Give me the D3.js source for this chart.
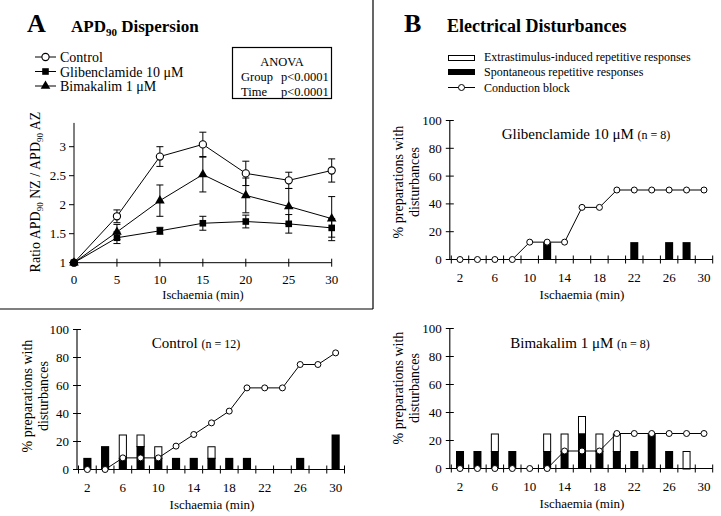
<!DOCTYPE html>
<html><head><meta charset="utf-8">
<script src="https://cdn.jsdelivr.net/npm/d3@7"></script>
<style>
body{margin:0;background:#fff;}
svg{display:block;}
</style></head>
<body>
<svg id="chart" width="721" height="516" font-family="'Liberation Serif', 'Times New Roman', 'DejaVu Serif', serif"></svg>
<script>
// ---------- Panel A data ----------
const timeA = [0, 5, 10, 15, 20, 25, 30];
const controlMean = [1.0, 1.80, 2.83, 3.04, 2.54, 2.42, 2.59];
const controlErr  = [0, 0.11, 0.17, 0.21, 0.21, 0.14, 0.20];
const glibMean    = [1.0, 1.43, 1.55, 1.68, 1.71, 1.67, 1.60];
const glibErr     = [0, 0.10, 0.06, 0.12, 0.11, 0.16, 0.16];
const bimaMean    = [1.0, 1.53, 2.07, 2.52, 2.16, 1.97, 1.76];
const bimaErr     = [0, 0.13, 0.27, 0.30, 0.30, 0.31, 0.38];
const yTicksA = [1, 1.5, 2, 2.5, 3];
const xTicksA = [0, 5, 10, 15, 20, 25, 30];

// ---------- Panel B data ----------
const minutes = [2, 4, 6, 8, 10, 12, 14, 16, 18, 20, 22, 24, 26, 28, 30];
const minuteLabels = ["2", "6", "10", "14", "18", "22", "26", "30"];
const pctTicks = [0, 20, 40, 60, 80, 100];

const ctrlSpont = [8.3, 16.7, 8.3, 16.7, 8.3, 8.3, 8.3, 8.3, 8.3, 8.3, 0, 0, 8.3, 0, 25];
const ctrlExtra = [0, 0, 16.7, 8.3, 8.3, 0, 0, 8.3, 0, 0, 0, 0, 0, 0, 0];
const ctrlBlock = [0, 0, 8.3, 8.3, 8.3, 16.7, 25, 33.3, 41.7, 58.3, 58.3, 58.3, 75, 75, 83.3];

const glibSpont = [0, 0, 0, 0, 0, 12.5, 0, 0, 0, 0, 12.5, 0, 12.5, 12.5, 0];
const glibExtra = [0, 0, 0, 0, 0, 0, 0, 0, 0, 0, 0, 0, 0, 0, 0];
const glibBlock = [0, 0, 0, 0, 12.5, 12.5, 12.5, 37.5, 37.5, 50, 50, 50, 50, 50, 50];

const bimaSpont = [12.5, 12.5, 12.5, 12.5, 0, 12.5, 12.5, 25, 12.5, 12.5, 12.5, 25, 12.5, 0, 0];
const bimaExtra = [0, 0, 12.5, 0, 0, 12.5, 12.5, 12.5, 12.5, 12.5, 0, 0, 0, 12.5, 0];
const bimaBlock = [0, 0, 0, 0, 0, 0, 12.5, 12.5, 12.5, 25, 25, 25, 25, 25, 25];

const svg = d3.select("#chart");

// ---------- frame lines ----------
svg.append("line").attr("x1", 373).attr("y1", 0).attr("x2", 373).attr("y2", 309).attr("stroke", "#000").attr("stroke-width", 1.2);
svg.append("line").attr("x1", 0).attr("y1", 309).attr("x2", 373).attr("y2", 309).attr("stroke", "#000").attr("stroke-width", 1.2);

// ---------- headers ----------
svg.append("text").attr("x", 27).attr("y", 32).attr("font-size", 26).attr("font-weight", "bold").text("A");
const hA = svg.append("text").attr("x", 71).attr("y", 32).attr("font-size", 17).attr("font-weight", "bold");
hA.append("tspan").text("APD");
hA.append("tspan").attr("font-size", 11).attr("dy", 4).text("90");
hA.append("tspan").attr("dy", -4).text(" Dispersion");

svg.append("text").attr("x", 404).attr("y", 32).attr("font-size", 26).attr("font-weight", "bold").text("B");
svg.append("text").attr("x", 447).attr("y", 32).attr("font-size", 18).attr("font-weight", "bold").text("Electrical Disturbances");

// ---------- Panel A ----------
const xA = d3.scaleLinear().domain([0, 30]).range([74, 331.7]);
const yA = d3.scaleLinear().domain([1, 3]).range([262.7, 146.7]);

const gA = svg.append("g");
gA.append("line").attr("x1", xA(0)).attr("x2", xA(0)).attr("y1", yA(1)).attr("y2", yA(3.41)).attr("stroke", "#000");
yTicksA.forEach(t => {
  gA.append("line").attr("x1", xA(0) - 5).attr("x2", xA(0)).attr("y1", yA(t)).attr("y2", yA(t)).attr("stroke", "#000");
  gA.append("text").attr("x", xA(0) - 8).attr("y", yA(t) + 4.5).attr("text-anchor", "end").attr("font-size", 13).text(t);
});
gA.append("line").attr("x1", xA(0)).attr("x2", xA(30)).attr("y1", yA(1)).attr("y2", yA(1)).attr("stroke", "#000");
xTicksA.forEach(t => {
  gA.append("line").attr("x1", xA(t)).attr("x2", xA(t)).attr("y1", yA(1) - 4).attr("y2", yA(1) + 4).attr("stroke", "#000");
  gA.append("text").attr("x", xA(t)).attr("y", 284).attr("text-anchor", "middle").attr("font-size", 13).text(t);
});
gA.append("text").attr("x", 203).attr("y", 299).attr("text-anchor", "middle").attr("font-size", 12.5).text("Ischaemia (min)");
const ylA = gA.append("text").attr("transform", "translate(40,192) rotate(-90)").attr("text-anchor", "middle").attr("font-size", 14);
ylA.append("tspan").text("Ratio APD");
ylA.append("tspan").attr("font-size", 9).attr("dy", 3).text("90");
ylA.append("tspan").attr("dy", -3).text(" NZ / APD");
ylA.append("tspan").attr("font-size", 9).attr("dy", 3).text("90");
ylA.append("tspan").attr("dy", -3).text(" AZ");

const seriesA = [
  {name: "Control", mean: controlMean, err: controlErr, sym: "circle"},
  {name: "Glibenclamide 10 μM", mean: glibMean, err: glibErr, sym: "square"},
  {name: "Bimakalim 1 μM", mean: bimaMean, err: bimaErr, sym: "triangle"}
];
const lineA = d3.line().x((d, i) => xA(timeA[i])).y(d => yA(d));

function drawSym(g, sym, x, y) {
  if (sym === "circle") {
    g.append("circle").attr("cx", x).attr("cy", y).attr("r", 3.6).attr("fill", "#fff").attr("stroke", "#000").attr("stroke-width", 1.1);
  } else if (sym === "square") {
    g.append("rect").attr("x", x - 3.3).attr("y", y - 3.3).attr("width", 6.6).attr("height", 6.6).attr("fill", "#000");
  } else {
    g.append("path").attr("d", d3.symbol(d3.symbolTriangle, 40)()).attr("transform", `translate(${x},${y})`).attr("fill", "#000");
  }
}

seriesA.forEach(s => {
  s.mean.forEach((m, i) => {
    const e = s.err[i];
    if (e <= 0) return;
    const x = xA(timeA[i]);
    gA.append("line").attr("x1", x).attr("x2", x).attr("y1", yA(m - e)).attr("y2", yA(m + e)).attr("stroke", "#000");
    [m - e, m + e].forEach(v => gA.append("line").attr("x1", x - 3.5).attr("x2", x + 3.5).attr("y1", yA(v)).attr("y2", yA(v)).attr("stroke", "#000"));
  });
  gA.append("path").datum(s.mean).attr("d", lineA).attr("fill", "none").attr("stroke", "#000").attr("stroke-width", 1);
});
seriesA.forEach(s => s.mean.forEach((m, i) => drawSym(gA, s.sym, xA(timeA[i]), yA(m))));

// legend A
seriesA.forEach((s, i) => {
  const y = 57 + i * 14.5;
  gA.append("line").attr("x1", 35).attr("x2", 56).attr("y1", y).attr("y2", y).attr("stroke", "#000");
  drawSym(gA, s.sym, 45.5, y);
  gA.append("text").attr("x", 60).attr("y", y + 5).attr("font-size", 14).text(s.name);
});

// ANOVA box
gA.append("rect").attr("x", 232.5).attr("y", 47.5).attr("width", 99).attr("height", 51).attr("fill", "none").attr("stroke", "#000").attr("stroke-width", 1.2);
gA.append("text").attr("x", 282).attr("y", 66).attr("text-anchor", "middle").attr("font-size", 12.5).text("ANOVA");
[["Group", 81], ["Time", 96]].forEach(([lab, y]) => {
  gA.append("text").attr("x", 241).attr("y", y).attr("font-size", 12.5).text(lab);
  gA.append("text").attr("x", 281).attr("y", y).attr("font-size", 12.5).text("p<0.0001");
});

// ---------- Legend B ----------
svg.append("rect").attr("x", 448.5).attr("y", 55.5).attr("width", 26).attr("height", 5).attr("fill", "#fff").attr("stroke", "#000");
svg.append("text").attr("x", 484).attr("y", 61).attr("font-size", 12).text("Extrastimulus-induced repetitive responses");
svg.append("rect").attr("x", 448).attr("y", 69).attr("width", 27).attr("height", 6).attr("fill", "#000");
svg.append("text").attr("x", 484).attr("y", 76).attr("font-size", 12).text("Spontaneous repetitive responses");
svg.append("line").attr("x1", 448).attr("x2", 475).attr("y1", 87.5).attr("y2", 87.5).attr("stroke", "#000");
svg.append("circle").attr("cx", 461.5).attr("cy", 87.5).attr("r", 3).attr("fill", "#fff").attr("stroke", "#000");
svg.append("text").attr("x", 484).attr("y", 92).attr("font-size", 12).text("Conduction block");

// ---------- Bar panels ----------
function barPanel(cfg) {
  const g = svg.append("g");
  const x = d3.scaleBand().domain(minutes).range([cfg.x0, cfg.x1]).paddingInner(0.54).paddingOuter(0.27);
  const y = d3.scaleLinear().domain([0, 100]).range([cfg.yBottom, cfg.yTop]);
  const step = x.step();
  const axisX = cfg.x0 - 1.5;
  g.append("line").attr("x1", axisX).attr("x2", axisX).attr("y1", y(0)).attr("y2", y(100)).attr("stroke", "#000").attr("stroke-width", 1.1);
  pctTicks.forEach(t => {
    g.append("line").attr("x1", axisX - 4).attr("x2", axisX + 4).attr("y1", y(t)).attr("y2", y(t)).attr("stroke", "#000");
    g.append("text").attr("x", axisX - 8).attr("y", y(t) + 4.5).attr("text-anchor", "end").attr("font-size", 13).text(t);
  });
  minutes.forEach((m, i) => {
    const sp = cfg.spont[i], ex = cfg.extra[i];
    if (ex > 0) {
      g.append("rect").attr("x", x(m) + 0.5).attr("y", y(sp + ex) + 0.5).attr("width", x.bandwidth() - 1).attr("height", y(sp) - y(sp + ex)).attr("fill", "#fff").attr("stroke", "#000").attr("stroke-width", 1);
    }
    if (sp > 0) {
      g.append("rect").attr("x", x(m)).attr("y", y(sp)).attr("width", x.bandwidth()).attr("height", y(0) - y(sp)).attr("fill", "#000");
    }
  });
  g.append("line").attr("x1", axisX).attr("x2", cfg.x1).attr("y1", y(0)).attr("y2", y(0)).attr("stroke", "#000").attr("stroke-width", 1.1);
  d3.range(minutes.length + 1).forEach(k => {
    const tx = cfg.x0 + k * step;
    g.append("line").attr("x1", tx).attr("x2", tx).attr("y1", y(0) - 4).attr("y2", y(0) + 4).attr("stroke", "#000");
  });
  minuteLabels.forEach(l => {
    const m = +l;
    g.append("text").attr("x", x(m) + x.bandwidth() / 2).attr("y", y(0) + 22).attr("text-anchor", "middle").attr("font-size", 13).text(l);
  });
  g.append("text").attr("x", cfg.xLabelX).attr("y", y(0) + 39).attr("text-anchor", "middle").attr("font-size", 13).text("Ischaemia (min)");
  const line = d3.line().x((d, i) => x(minutes[i]) + x.bandwidth() / 2).y(d => y(d));
  g.append("path").datum(cfg.block).attr("d", line).attr("fill", "none").attr("stroke", "#000").attr("stroke-width", 1);
  cfg.block.forEach((v, i) => {
    g.append("circle").attr("cx", x(minutes[i]) + x.bandwidth() / 2).attr("cy", y(v)).attr("r", 3).attr("fill", "#fff").attr("stroke", "#000").attr("stroke-width", 1);
  });
  const t = g.append("text").attr("x", cfg.titleX).attr("y", cfg.titleY).attr("text-anchor", "middle").attr("font-size", 15);
  t.append("tspan").text(cfg.title + " ");
  t.append("tspan").attr("font-size", 12).text(cfg.n);
  const yl = g.append("text").attr("transform", `translate(${cfg.yLabelX},${cfg.yLabelY}) rotate(-90)`).attr("text-anchor", "middle").attr("font-size", 14);
  yl.append("tspan").attr("x", 0).attr("dy", 0).text("% preparations with");
  yl.append("tspan").attr("x", 0).attr("dy", 16).text("disturbances");
}

barPanel({x0: 78.5, x1: 344.5, yTop: 329.5, yBottom: 469.5, spont: ctrlSpont, extra: ctrlExtra, block: ctrlBlock,
  title: "Control", n: "(n = 12)", titleX: 196, titleY: 348, xLabelX: 212, yLabelX: 32, yLabelY: 396});
barPanel({x0: 451.3, x1: 712.7, yTop: 120.5, yBottom: 259.5, spont: glibSpont, extra: glibExtra, block: glibBlock,
  title: "Glibenclamide 10 μM", n: "(n = 8)", titleX: 586, titleY: 139, xLabelX: 582, yLabelX: 403, yLabelY: 182});
barPanel({x0: 451.3, x1: 712.7, yTop: 328.5, yBottom: 468.5, spont: bimaSpont, extra: bimaExtra, block: bimaBlock,
  title: "Bimakalim 1 μM", n: "(n = 8)", titleX: 580, titleY: 348, xLabelX: 582, yLabelX: 403, yLabelY: 388});
</script>
</body></html>
